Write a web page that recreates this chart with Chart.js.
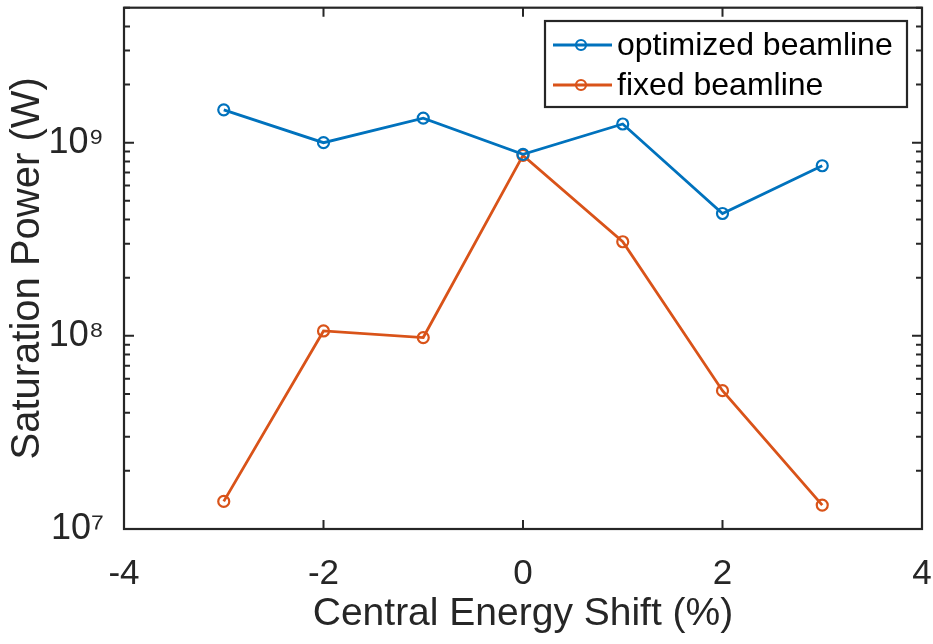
<!DOCTYPE html>
<html>
<head>
<meta charset="utf-8">
<script src="https://cdn.jsdelivr.net/npm/chart.js@4"></script>
<style>
  html, body { margin: 0; padding: 0; background: #fff; }
  #wrap { width: 933px; height: 644px; }
</style>
</head>
<body>
<div id="wrap"><canvas id="chartPower"></canvas></div>
<script>
// datos
const energyShift = [-3, -2, -1, 0, 1, 2, 3];
const optimizedPower = [1.48e9, 1.0e9, 1.34e9, 8.7e8, 1.25e9, 4.3e8, 7.6e8];
const fixedPower = [1.39e7, 1.06e8, 9.8e7, 8.6e8, 3.07e8, 5.2e7, 1.33e7];
const seriesNames = ['optimized beamline', 'fixed beamline'];
const xTicks = [-4, -2, 0, 2, 4];

const axisColor = '#262626';
const font = 'Liberation Sans, Arial, Helvetica, sans-serif';
const sup = { '0': '⁰', '1': '¹', '2': '²', '3': '³', '4': '⁴', '5': '⁵', '6': '⁶', '7': '⁷', '8': '⁸', '9': '⁹' };

function toPoints(ys) {
    return energyShift.map((x, i) => ({ x: x, y: ys[i] }));
}

// marco, marcas hacia dentro y leyenda al estilo MATLAB
const matlabFrame = {
    id: 'matlabFrame',
    afterDraw(chart) {
        const ctx = chart.ctx;
        const a = chart.chartArea;
        const xs = chart.scales.x;
        const ys = chart.scales.y;
        ctx.save();
        ctx.strokeStyle = axisColor;
        ctx.lineWidth = 2;
        ctx.beginPath();
        xTicks.forEach(v => {
            const px = xs.getPixelForValue(v);
            ctx.moveTo(px, a.bottom); ctx.lineTo(px, a.bottom - 9);
            ctx.moveTo(px, a.top); ctx.lineTo(px, a.top + 9);
        });
        for (let e = 7; e <= 9; e++) {
            for (let m = 1; m <= 9; m++) {
                const v = m * Math.pow(10, e);
                if (v < ys.min || v > ys.max) continue;
                const py = ys.getPixelForValue(v);
                const len = m === 1 ? 10 : 6;
                ctx.moveTo(a.left, py); ctx.lineTo(a.left + len, py);
                ctx.moveTo(a.right, py); ctx.lineTo(a.right - len, py);
            }
        }
        ctx.stroke();
        ctx.lineWidth = 2.2;
        ctx.strokeRect(a.left, a.top, a.right - a.left, a.bottom - a.top);

        // leyenda
        const lx = 545, ly = 21, lw = 362, lh = 86;
        ctx.fillStyle = '#fff';
        ctx.fillRect(lx, ly, lw, lh);
        ctx.strokeRect(lx, ly, lw, lh);
        ctx.font = '32px ' + font;
        ctx.textBaseline = 'middle';
        chart.data.datasets.forEach((ds, i) => {
            const cy = ly + 24 + i * 40;
            ctx.strokeStyle = ds.borderColor;
            ctx.lineWidth = 2.8;
            ctx.beginPath();
            ctx.moveTo(lx + 8, cy); ctx.lineTo(lx + 67, cy);
            ctx.stroke();
            ctx.lineWidth = 2.2;
            ctx.beginPath();
            ctx.arc(lx + 36, cy, 5, 0, Math.PI * 2);
            ctx.stroke();
            ctx.fillStyle = '#000';
            ctx.fillText(ds.label, lx + 72, cy + 1);
        });
        ctx.restore();
    }
};

const powerCtx = document.getElementById('chartPower').getContext('2d');
new Chart(powerCtx, {
    type: 'line',
    data: {
        datasets: [{
            label: seriesNames[0],
            data: toPoints(optimizedPower),
            borderColor: '#0072BD',
            backgroundColor: 'rgba(0,0,0,0)',
            borderWidth: 2.8,
            pointRadius: 5.5,
            pointBorderWidth: 2.2,
            pointBackgroundColor: 'rgba(0,0,0,0)',
            pointBorderColor: '#0072BD'
        }, {
            label: seriesNames[1],
            data: toPoints(fixedPower),
            borderColor: '#D95319',
            backgroundColor: 'rgba(0,0,0,0)',
            borderWidth: 2.8,
            pointRadius: 5.5,
            pointBorderWidth: 2.2,
            pointBackgroundColor: 'rgba(0,0,0,0)',
            pointBorderColor: '#D95319'
        }]
    },
    options: {
        responsive: true,
        maintainAspectRatio: false,
        animation: false,
        layout: { padding: { top: 4, right: 11, left: 0, bottom: 0 } },
        plugins: {
            legend: { display: false },
            tooltip: { enabled: false }
        },
        scales: {
            x: {
                type: 'linear',
                min: -4,
                max: 4,
                afterBuildTicks: scale => { scale.ticks = xTicks.map(v => ({ value: v })); },
                afterFit: scale => {
                    scale.height = 115;
                    scale.paddingLeft = 0;
                    scale.paddingRight = 0;
                },
                grid: { display: false },
                border: { display: false },
                ticks: {
                    color: axisColor,
                    font: { family: font, size: 35 },
                    padding: 16,
                    maxRotation: 0,
                    callback: v => String(v)
                },
                title: {
                    display: true,
                    text: 'Central Energy Shift (%)',
                    color: axisColor,
                    font: { family: font, size: 39 },
                    padding: { top: 0, bottom: 6 }
                }
            },
            y: {
                type: 'logarithmic',
                min: 1e7,
                max: 5e9,
                afterFit: scale => {
                    scale.width = 124;
                    scale.paddingTop = 0;
                    scale.paddingBottom = 0;
                },
                grid: { display: false },
                border: { display: false },
                ticks: {
                    color: axisColor,
                    font: { family: font, size: 36 },
                    padding: 12,
                    autoSkip: false,
                    callback: v => {
                        const e = Math.log10(v);
                        if (Math.abs(e - Math.round(e)) > 1e-9) return '';
                        return '10' + String(Math.round(e)).split('').map(c => sup[c]).join('');
                    }
                },
                title: {
                    display: true,
                    text: 'Saturation Power (W)',
                    color: axisColor,
                    font: { family: font, size: 40 },
                    padding: { top: 4, bottom: 0 }
                }
            }
        }
    },
    plugins: [matlabFrame]
});
</script>
</body>
</html>
